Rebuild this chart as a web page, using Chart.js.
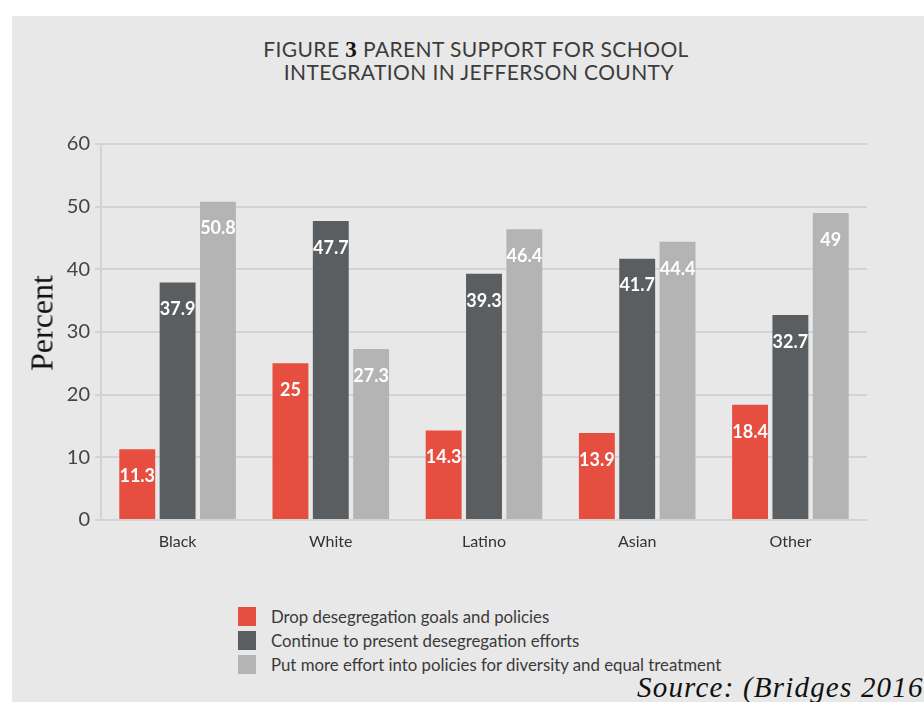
<!DOCTYPE html>
<html>
<head>
<meta charset="utf-8">
<script src="https://cdn.jsdelivr.net/npm/chart.js@4/dist/chart.umd.min.js"></script>
<style>
  html, body { margin: 0; padding: 0; background: #fff; overflow: hidden; }
  body { width: 924px; height: 702px; position: relative; font-family: Lato, "Open Sans", sans-serif; }
  #panel { position: absolute; left: 12px; top: 16px; width: 912px; height: 686px; background: #e8e8e8; }
  #title { position: absolute; left: 176px; width: 600px; top: 38px; text-align: center;
           font-size: 21px; line-height: 22px; color: #3c3c3c; letter-spacing: 0.4px; }
  #title b { font-family: "Liberation Serif", serif; color: #111; font-size: 23px; }
  #ytitle { position: absolute; left: 42px; top: 323px; transform: translate(-50%, -50%) rotate(-90deg);
            font-family: "Liberation Serif", serif; font-size: 32px; color: #111; white-space: nowrap; }
  #chartBox { position: absolute; left: 12px; top: 127px; width: 870px; height: 433px; }
  #legend { position: absolute; left: 238px; top: 604px; }
  .item { height: 24px; display: flex; align-items: center; font-size: 16.8px; color: #3a3a3a; }
  .box { width: 18px; height: 19px; margin-right: 15px; }
  #source { position: absolute; left: 637px; top: 671px; font-family: "Liberation Serif", serif;
            font-style: italic; font-size: 29px; color: #111; white-space: nowrap; letter-spacing: 1.2px; }
</style>
</head>
<body>
<div id="panel"></div>
<div id="title">FIGURE <b>3</b> PARENT SUPPORT FOR SCHOOL<br>&nbsp;INTEGRATION IN JEFFERSON COUNTY</div>
<div id="chartBox"><canvas id="chart"></canvas></div>
<div id="ytitle">Percent</div>
<div id="legend"></div>
<div id="source">Source: (Bridges 2016</div>
<script>
// data
var categories = ["Black", "White", "Latino", "Asian", "Other"];
var seriesNames = [
  "Drop desegregation goals and policies",
  "Continue to present desegregation efforts",
  "Put more effort into policies for diversity and equal treatment"
];
var dropValues = [11.3, 25, 14.3, 13.9, 18.4];
var continueValues = [37.9, 47.7, 39.3, 41.7, 32.7];
var moreEffortValues = [50.8, 27.3, 46.4, 44.4, 49];
var seriesColors = ["#e64f40", "#5b5e61", "#b4b4b4"];

var allValues = [dropValues, continueValues, moreEffortValues];

// white value labels just inside the top of each bar
var valueLabels = {
  id: 'valueLabels',
  afterDatasetsDraw: function(chart) {
    var ctx = chart.ctx;
    ctx.save();
    ctx.font = "bold 18px Lato";
    ctx.fillStyle = "#ffffff";
    ctx.textAlign = "center";
    ctx.textBaseline = "middle";
    chart.data.datasets.forEach(function(ds, i) {
      chart.getDatasetMeta(i).data.forEach(function(bar, j) {
        ctx.fillText(String(ds.data[j]), bar.x, bar.y + 27);
      });
    });
    ctx.restore();
  }
};

var ctx = document.getElementById("chart");
new Chart(ctx, {
  type: 'bar',
  data: {
    labels: categories,
    datasets: allValues.map(function(vals, i) {
      return {
        label: seriesNames[i],
        data: vals,
        backgroundColor: seriesColors[i],
        categoryPercentage: 0.79,
        barPercentage: 0.89
      };
    })
  },
  options: {
    responsive: true,
    maintainAspectRatio: false,
    animation: false,
    layout: { padding: { top: 12, right: 15, left: 0, bottom: 0 } },
    plugins: {
      legend: { display: false },
      tooltip: { enabled: false }
    },
    scales: {
      x: {
        grid: { display: false },
        border: { display: false },
        ticks: { color: "#333", font: { family: "Lato", size: 16 }, padding: 4 },
        afterFit: function(scale) { scale.height = 40; }
      },
      y: {
        min: 0,
        max: 60,
        ticks: { stepSize: 10, color: "#444", font: { family: "Lato", size: 20 }, padding: 5 },
        grid: { color: "#d3d3d3", lineWidth: 2, tickLength: 6 },
        border: { display: true, color: "#d3d3d3", width: 2 },
        afterFit: function(scale) { scale.width = 89; }
      }
    }
  },
  plugins: [valueLabels]
});

// legend as a stacked list below the chart
var legend = document.getElementById("legend");
seriesNames.forEach(function(name, i) {
  var row = document.createElement("div");
  row.className = "item";
  var box = document.createElement("span");
  box.className = "box";
  box.style.background = seriesColors[i];
  row.appendChild(box);
  row.appendChild(document.createTextNode(name));
  legend.appendChild(row);
});
</script>
</body>
</html>
